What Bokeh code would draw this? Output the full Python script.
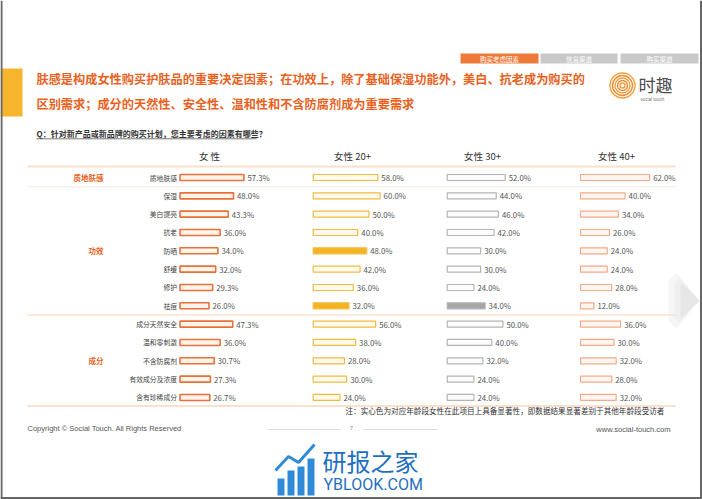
from bokeh.plotting import figure
from bokeh.models import Range1d, ColumnDataSource
from bokeh.core.properties import value
from bokeh.embed import file_html
from bokeh.resources import INLINE

# ---------------- data ----------------
categories = ["质地肤感", "保湿", "美白提亮", "抗老", "防晒", "舒缓", "修护", "祛痘",
              "成分天然安全", "温和零刺激", "不含防腐剂", "有效成分及浓度", "含有珍稀成分"]
groups = ["质地肤感", "功效", "成分"]
group_sizes = [1, 7, 5]
col_titles = ["女 性", "女性 20+", "女性 30+", "女性 40+"]
women = [57.3, 48.0, 43.3, 36.0, 34.0, 32.0, 29.3, 26.0, 47.3, 36.0, 30.7, 27.3, 26.7]
women_20 = [58.0, 60.0, 50.0, 40.0, 48.0, 42.0, 36.0, 32.0, 56.0, 38.0, 28.0, 30.0, 24.0]
women_30 = [52.0, 44.0, 46.0, 42.0, 30.0, 30.0, 24.0, 34.0, 50.0, 40.0, 32.0, 24.0, 24.0]
women_40 = [62.0, 40.0, 34.0, 26.0, 24.0, 24.0, 28.0, 12.0, 36.0, 30.0, 32.0, 28.0, 32.0]
significant = [[], ["防晒", "祛痘"], ["祛痘"], []]
tabs = ["购买考虑因素", "信息渠道", "购买渠道"]
title_lines = ["肤感是构成女性购买护肤品的重要决定因素；在功效上，除了基础保湿功能外，美白、抗老成为购买的",
               "区别需求；成分的天然性、安全性、温和性和不含防腐剂成为重要需求"]
question = "Q：针对新产品或新品牌的购买计划，您主要考虑的因素有哪些？"
note = "注：实心色为对应年龄段女性在此项目上具备显著性，即数据结果显著差别于其他年龄段受访者"

series = [women, women_20, women_30, women_40]

# ---------------- layout / style ----------------
CJK = value("Noto Sans CJK SC")
SANS = value("Liberation Sans")
ORANGE = "#e9621e"
ROW0, STEP = 177.0, 18.33
K = 1.115  # px per percent
col_start = [179.5, 312.7, 446.7, 580.0]
col_head_x = [209, 352, 482, 616]
line_col = ["#e8703a", "#f0bb45", "#b4b4b4", "#f4aa88"]
fill_col = ["#fff4ea", "#fffaea", "#fcfcfc", "#fff6f1"]
solid_col = ["#e8703a", "#f5b320", "#a6a6a6", "#f4aa88"]

W, H = 702, 499
p = figure(width=W, height=H, x_range=Range1d(0, W), y_range=Range1d(H, 0),
           output_backend="svg", toolbar_location=None, min_border=0,
           x_axis_type=None, y_axis_type=None)
p.grid.visible = False
p.outline_line_color = None
p.background_fill_color = "white"
p.border_fill_color = "white"

# decorative background arrow at right (soft gradient imitation)
for shift, col in [(0, "#f6f6f6"), (6, "#efefef"), (12, "#e6e6e6")]:
    p.patch([668 + shift, 676 + shift * 0.4, 699, 676 + shift * 0.4, 668 + shift],
            [280 + shift * 0.6, 272 + shift * 0.9, 300, 328 - shift * 0.9, 320 - shift * 0.6],
            fill_color=col, line_color=None)

# left accent block
p.quad(left=[0], right=[22], top=[68], bottom=[116], fill_color="#f6b52c", line_color=None)

# tabs
tab_left = [460, 540, 620]
tab_right = [538, 617, 698]
tab_fill = ["#ee7a3a", "#c9c9c9", "#c9c9c9"]
p.quad(left=tab_left, right=tab_right, top=[53] * 3, bottom=[63] * 3, fill_color=tab_fill, line_color=None)
p.text(x=[(a + b) / 2 for a, b in zip(tab_left, tab_right)], y=[58.3] * 3, text=tabs,
       text_font=CJK, text_font_size="6.5px", text_color="white",
       text_align="center", text_baseline="middle")

# title
p.text(x=[36, 36], y=[78, 103], text=title_lines, text_font=CJK, text_font_size="12.2px",
       text_font_style="bold", text_color=ORANGE, text_baseline="middle")

# logo
for r, c in zip([12.5, 10, 7.5, 5, 2.5], ["#f3a23b", "#ee8a35", "#f3a23b", "#ee8a35", "#f3a23b"]):
    p.circle(x=[622], y=[85], radius=r, fill_color=None, line_color=c, line_width=1.4)
p.text(x=[638], y=[84], text=["时趣"], text_font=CJK, text_font_size="17px",
       text_color="#4a4a4a", text_baseline="middle")
p.text(x=[640], y=[98.5], text=["social touch"], text_font=SANS, text_font_size="4.5px",
       text_color="#777777", text_baseline="middle")

# question
p.text(x=[36], y=[133], text=[question], text_font=CJK, text_font_size="8px",
       text_font_style="bold", text_color="#333333", text_baseline="middle")
p.segment(x0=[36], y0=[138.3], x1=[256], y1=[138.3], line_color="#555555", line_width=0.8)

# column headers
p.text(x=col_head_x, y=[155] * 4, text=col_titles, text_font=CJK, text_font_size="9.5px",
       text_color="#333333", text_align="center", text_baseline="middle")

# separator lines
ys_rows = [ROW0 + i * STEP for i in range(len(categories))]
p.segment(x0=[27, 27], y0=[166, 405.5], x1=[675, 675], y1=[166, 405.5], line_color="#fbe0cb", line_width=2)
bounds = []
idx = 0
for g in group_sizes[:-1]:
    idx += g
    bounds.append((ys_rows[idx - 1] + ys_rows[idx]) / 2)
p.segment(x0=[27] * len(bounds), y0=bounds, x1=[675] * len(bounds), y1=bounds,
          line_color=["#f6eee8", "#fbe0cb"][: len(bounds)], line_width=[1.2, 1.6][: len(bounds)])

# group labels
gy = []
idx = 0
for g in group_sizes:
    gy.append(sum(ys_rows[idx:idx + g]) / g)
    idx += g
p.text(x=[103] * len(groups), y=gy, text=groups, text_font=CJK, text_font_size="7.5px",
       text_font_style="bold", text_color=ORANGE, text_align="right", text_baseline="middle")

# row labels
p.text(x=[176.5] * len(categories), y=ys_rows, text=categories, text_font=CJK, text_font_size="6.8px",
       text_color="#444444", text_align="right", text_baseline="middle")

# bars
for ci, vals in enumerate(series):
    left = [col_start[ci]] * len(vals)
    right = [col_start[ci] + v * K for v in vals]
    fills = [solid_col[ci] if c in significant[ci] else fill_col[ci] for c in categories]
    src = ColumnDataSource(dict(y=ys_rows, left=left, right=right, fill=fills,
                                lx=[r + 3.5 for r in right], lab=[f"{v:.1f}%" for v in vals]))
    lw = 1.6 if ci == 0 else 1.2
    p.hbar(y="y", left="left", right="right", height=6, source=src,
           fill_color="fill", line_color=line_col[ci], line_width=lw)
    p.text(x="lx", y="y", text="lab", source=src, text_font=CJK, text_font_size="7.8px",
           text_color="#555555", text_baseline="middle")

# note
p.text(x=[345], y=[410], text=[note], text_font=CJK, text_font_size="7.6px",
       text_color="#333333", text_baseline="middle")

# footer
p.text(x=[27], y=[428], text=["Copyright © Social Touch. All Rights Reserved"], text_font=SANS,
       text_font_size="7.5px", text_color="#555555", text_baseline="middle")
p.text(x=[670], y=[428.5], text=["www.social-touch.com"], text_font=SANS,
       text_font_size="7.5px", text_color="#555555", text_align="right", text_baseline="middle")
p.text(x=[351], y=[427], text=["7"], text_font=SANS, text_font_size="6px",
       text_color="#888888", text_align="center", text_baseline="middle")
p.segment(x0=[268, 363], y0=[429, 429], x1=[340, 437], y1=[429, 429], line_color="#dddddd", line_width=1)

# watermark logo (bottom)
p.quad(left=[277, 287, 297, 307], right=[284, 294, 304, 314], top=[478, 470, 466, 458],
       bottom=[495] * 4, fill_color="#2f8ad8", line_color=None)
p.line(x=[275, 288, 298, 314], y=[470, 456, 462, 444], line_color="#2f8ad8", line_width=3)
p.text(x=[322], y=[460], text=["研报之家"], text_font=CJK, text_font_size="24px",
       text_color="#1f6fc0", text_baseline="middle")
p.text(x=[323], y=[484], text=["YBLOOK.COM"], text_font=value("Roboto"), text_font_size="16px",
       text_color="#1f6fc0", text_baseline="middle")

# page frame
p.segment(x0=[1, 700.5, 0], y0=[0, 0, 497.5], x1=[1, 700.5, 702], y1=[499, 499, 497.5],
          line_color="#666666", line_width=2)

open("out.html", "w").write(file_html(p, INLINE))
